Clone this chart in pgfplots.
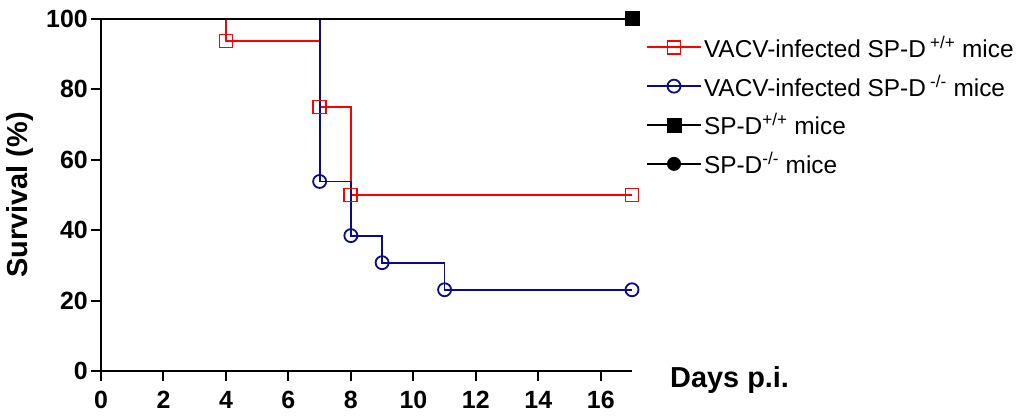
\documentclass[border=0pt]{standalone}
\usepackage{fontspec}
\setmainfont{Liberation Sans}
\usepackage{pgfplots}
\pgfplotsset{compat=1.18}
\definecolor{myred}{RGB}{255,0,0}
\definecolor{myblue}{RGB}{10,10,140}
\begin{document}
\begin{tikzpicture}
\begin{axis}[
  at={(101bp,46bp)}, anchor=origin,
  scale only axis, width=531bp, height=352bp,
  xmin=0, xmax=17, ymin=0, ymax=100,
  axis x line*=bottom, axis y line*=left,
  axis line style={line width=2bp},
  xtick={0,2,...,16}, ytick={0,20,...,100},
  tick align=outside, major tick length=10bp,
  every tick/.style={black, line width=2bp},
  /pgf/number format/assume math mode=true,
  ticklabel style={font=\fontsize{25}{25}\selectfont\bfseries, inner sep=2bp},
  xticklabel style={yshift=-8bp},
  yticklabel style={xshift=-1bp},
  ylabel={Survival (\%)},
  ylabel style={font=\fontsize{29}{29}\selectfont\bfseries, at={(axis description cs:-0.1525,0.5)}, anchor=center},
  clip=false,
  legend style={draw=none, fill=none, at={(1.026,0.754)}, anchor=west,
    font=\fontsize{24.5}{24.5}\selectfont, row sep=12bp, inner sep=0pt},
  legend cell align=left,
  legend image code/.code={\draw[mark indices={2}] plot coordinates {(0bp,0bp) (27bp,0bp) (54bp,0bp)};},
]
\addplot[myred, line width=1.8bp, const plot mark left, mark=square, mark size=6.5bp, mark options={line width=1.8bp}, mark indices={2,3,4,5}]
  coordinates {(0,100) (4,93.75) (7,75) (8,50) (17,50)};
\addlegendentry{VACV-infected SP-D\,\textsuperscript{+/+} mice}
\addplot[myblue, line width=1.8bp, const plot mark left, mark=o, mark size=6.5bp, mark options={line width=1.8bp}, mark indices={2,3,4,5,6}]
  coordinates {(0,100) (7,53.85) (8,38.46) (9,30.77) (11,23.08) (17,23.08)};
\addlegendentry{VACV-infected SP-D\,\textsuperscript{-/-} mice}
\addplot[black, line width=2bp, mark=square*, mark size=6.5bp, mark indices={2}]
  coordinates {(0,100) (17,100)};
\addlegendentry{SP-D\textsuperscript{+/+} mice}
\addplot[black, line width=2bp, mark=*, mark size=6bp, mark indices={2}]
  coordinates {(0,100) (17,100)};
\addlegendentry{SP-D\textsuperscript{-/-} mice}
\node[font=\fontsize{29}{29}\selectfont\bfseries, anchor=base west, inner sep=0pt] at (axis cs:17,0) [xshift=38bp, yshift=-16bp] {Days p.i.};
\end{axis}
\path (0bp,0bp) rectangle (1024bp,417bp);
\end{tikzpicture}
\end{document}
